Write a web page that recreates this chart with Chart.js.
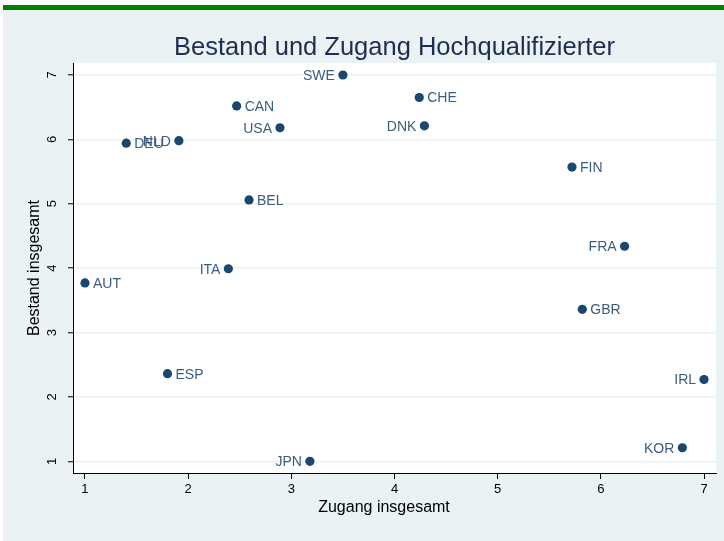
<!DOCTYPE html>
<html>
<head>
<meta charset="utf-8">
<title>Bestand und Zugang Hochqualifizierter</title>
<script src="https://cdn.jsdelivr.net/npm/chart.js@4.4.1/dist/chart.umd.min.js"></script>
<style>
    html, body { margin: 0; padding: 0; background: #ffffff; }
    #topBar { position: absolute; left: 3px; top: 5px; width: 721px; height: 5px; background: #008000; }
    #wrap { position: absolute; left: 3px; top: 10px; width: 721px; height: 531px; background: #eaf2f3; }
    canvas { display: block; }
</style>
</head>
<body>
<div id="topBar"></div>
<div id="wrap"><canvas id="scatter" width="721" height="531"></canvas></div>
<script>
// data
const countries = ['AUT', 'BEL', 'CAN', 'CHE', 'DEU', 'DNK', 'ESP', 'FIN', 'FRA',
                   'GBR', 'IRL', 'ITA', 'JPN', 'KOR', 'NLD', 'SWE', 'USA'];
const zugang  = [1.00, 2.59, 2.47, 4.24, 1.40, 4.29, 1.80, 5.72, 6.23,
                 5.82, 7.00, 2.39, 3.18, 6.79, 1.91, 3.50, 2.89];
const bestand = [3.77, 5.06, 6.52, 6.65, 5.94, 6.21, 2.36, 5.57, 4.34,
                 3.36, 2.27, 3.99, 1.00, 1.21, 5.98, 7.00, 6.18];
// which side of the marker the label sits on (like mlabvposition)
const labelSide = ['r', 'r', 'r', 'r', 'r', 'l', 'r', 'r', 'l',
                   'r', 'l', 'l', 'l', 'l', 'l', 'l', 'l'];
const xTicks = [1, 2, 3, 4, 5, 6, 7];
const yTicks = [1, 2, 3, 4, 5, 6, 7];

const FONT = '"Liberation Sans", Arial, Helvetica, sans-serif';
const MARKER = '#1a476f';
const LABEL_COLOR = '#3b5c7e';

const points = countries.map((c, i) => ({ x: zugang[i], y: bestand[i] }));

// white plot region, point labels, titles
const stataLook = {
    id: 'stataLook',
    beforeDraw(chart) {
        const { ctx, chartArea: a } = chart;
        ctx.save();
        ctx.fillStyle = '#ffffff';
        ctx.fillRect(a.left, a.top, a.right - a.left, a.bottom - a.top);
        ctx.restore();
    },
    afterDatasetsDraw(chart) {
        const { ctx, chartArea: a } = chart;
        const xs = chart.scales.x, ys = chart.scales.y;
        ctx.save();
        ctx.font = '14px ' + FONT;
        ctx.fillStyle = LABEL_COLOR;
        ctx.textBaseline = 'middle';
        countries.forEach((c, i) => {
            const px = xs.getPixelForValue(zugang[i]);
            const py = ys.getPixelForValue(bestand[i]);
            if (labelSide[i] === 'l') {
                ctx.textAlign = 'right';
                ctx.fillText(c, px - 8, py + 1);
            } else {
                ctx.textAlign = 'left';
                ctx.fillText(c, px + 8, py + 1);
            }
        });

        // chart title
        ctx.fillStyle = '#1e2d53';
        ctx.font = '25.5px ' + FONT;
        ctx.textAlign = 'center';
        ctx.fillText('Bestand und Zugang Hochqualifizierter', (a.left + a.right) / 2, 38);

        // axis titles
        ctx.fillStyle = '#000000';
        ctx.font = '16px ' + FONT;
        ctx.fillText('Zugang insgesamt', 381, 498);
        ctx.translate(32, (a.top + a.bottom) / 2);
        ctx.rotate(-Math.PI / 2);
        ctx.fillText('Bestand insgesamt', 0, 0);
        ctx.restore();
    }
};

const chart = new Chart(document.getElementById('scatter'), {
    type: 'scatter',
    data: {
        datasets: [{
            label: 'Bestand',
            data: points,
            backgroundColor: MARKER,
            borderWidth: 0,
            pointRadius: 4.6,
            pointHoverRadius: 4.6
        }]
    },
    options: {
        responsive: false,
        animation: false,
        events: [],
        layout: { padding: { top: 53, right: 8, left: 0, bottom: 0 } },
        plugins: {
            legend: { display: false },
            tooltip: { enabled: false },
            title: { display: false }
        },
        scales: {
            x: {
                type: 'linear',
                min: 0.884,
                max: 7.116,
                afterBuildTicks: s => { s.ticks = xTicks.map(v => ({ value: v })); },
                afterFit: s => { s.height = 68; },
                grid: { drawOnChartArea: false, tickLength: 6, tickColor: '#000000', tickWidth: 1 },
                border: { display: true, color: '#000000', width: 1 },
                ticks: {
                    color: '#000000',
                    font: { family: FONT, size: 13 },
                    padding: 3,
                    maxRotation: 0,
                    autoSkip: false
                }
            },
            y: {
                type: 'linear',
                min: 0.818,
                max: 7.186,
                afterBuildTicks: s => { s.ticks = yTicks.map(v => ({ value: v })); },
                afterFit: s => { s.width = 70; },
                grid: { color: '#eaf2f3', lineWidth: 1.5, tickLength: 5, tickColor: '#000000', tickWidth: 1 },
                border: { display: true, color: '#000000', width: 1 },
                ticks: {
                    color: '#000000',
                    font: { family: FONT, size: 13 },
                    padding: 12,
                    minRotation: 90,
                    maxRotation: 90,
                    crossAlign: 'center',
                    autoSkip: false
                }
            }
        }
    },
    plugins: [stataLook]
});
</script>
</body>
</html>
